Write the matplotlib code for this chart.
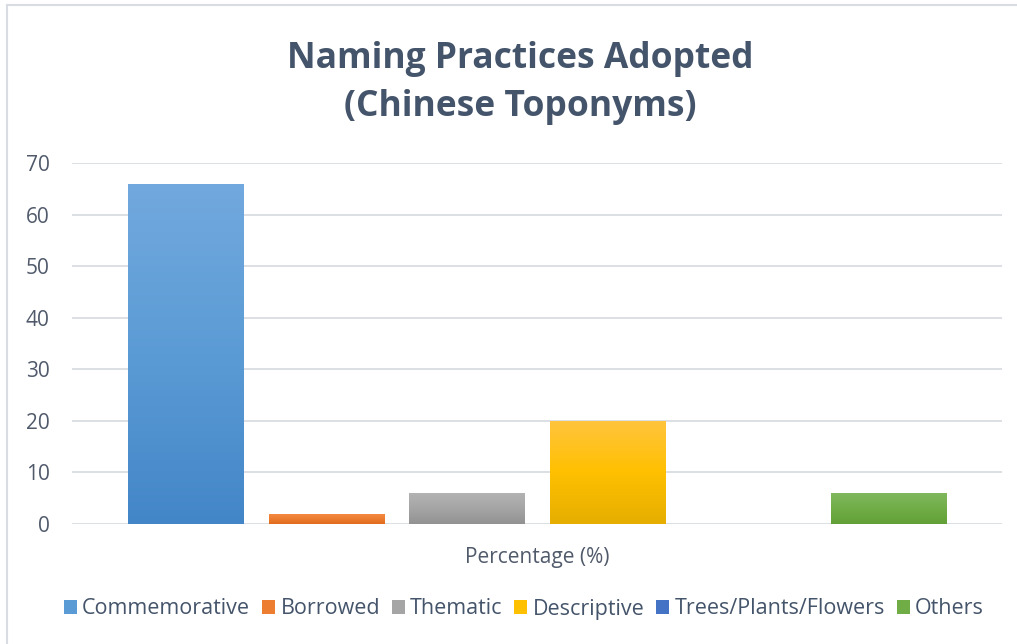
import numpy as np
import matplotlib.pyplot as plt
from matplotlib.colors import LinearSegmentedColormap
from matplotlib.patches import Patch

plt.rcParams['font.family'] = ['Open Sans', 'DejaVu Sans']

# dados
categorias = ['Commemorative', 'Borrowed', 'Thematic', 'Descriptive',
              'Trees/Plants/Flowers', 'Others']
valores = [66, 2, 6, 20, 0, 6]
# cores do gradiente (topo, meio, base)
cores = [('#72A9DE', '#5B9BD5', '#4386C8'),
         ('#F58D45', '#ED7D31', '#E06B1D'),
         ('#B3B3B3', '#A5A5A5', '#929292'),
         ('#FFC43F', '#FFC000', '#E5AE00'),
         ('#5A82CE', '#4472C4', '#3862B5'),
         ('#80B85E', '#70AD47', '#62A037')]
yticks = [0, 10, 20, 30, 40, 50, 60, 70]

fig = plt.figure(figsize=(10.17, 6.44), dpi=100)
ax = fig.add_axes([72/1017, 1 - 524/644, (1002-72)/1017, (524-163)/644])

x = np.arange(len(categorias))
largura = 0.818
barras = ax.bar(x, valores, width=largura, color='none', edgecolor='none')

# gradiente em cada barra
for b, c in zip(barras, cores):
    h = b.get_height()
    if h <= 0:
        continue
    cmap = LinearSegmentedColormap.from_list('g', [c[2], c[1], c[0]])
    grad = np.linspace(0, 1, 256).reshape(-1, 1)
    img = ax.imshow(grad, cmap=cmap, origin='lower', aspect='auto',
                    extent=[b.get_x(), b.get_x() + b.get_width(), 0, h],
                    zorder=3)
    img.set_clip_path(b)

ax.set_xlim(-0.807, 5.807)
ax.set_ylim(0, 70)
ax.set_yticks(yticks)
ax.set_xticks([])
ax.yaxis.grid(True, color='#D9DDE3', linewidth=1.3)
ax.set_axisbelow(True)
for s in ax.spines.values():
    s.set_visible(False)
ax.tick_params(axis='y', length=0, pad=16, labelsize=15, labelcolor='#505A6B')

fig.text(537/1017, 1 - 558/644, 'Percentage (%)', ha='center', va='center',
         fontsize=15, color='#505A6B')

fig.text(520/1017, 1 - 83/644, 'Naming Practices Adopted\n(Chinese Toponyms)',
         ha='center', va='center', fontsize=25.5, fontweight='bold',
         color='#44546A', linespacing=1.45)

handles = [Patch(facecolor=c[1], edgecolor='none') for c in cores]
fig.legend(handles, categorias, loc='center', bbox_to_anchor=(524/1017, 1 - 609/644),
           ncol=6, frameon=False, fontsize=15.5, handlelength=0.6, handleheight=0.6,
           handletextpad=0.25, columnspacing=0.55, labelcolor='#44546A')

# moldura
fig.add_artist(plt.Line2D([7/1017, 7/1017], [0, 1 - 5/644], color='#D9DDE3', lw=1.5))
fig.add_artist(plt.Line2D([7/1017, 1], [1 - 5/644, 1 - 5/644], color='#D9DDE3', lw=1.5))

fig.savefig('out.png', dpi=100, facecolor='white')
